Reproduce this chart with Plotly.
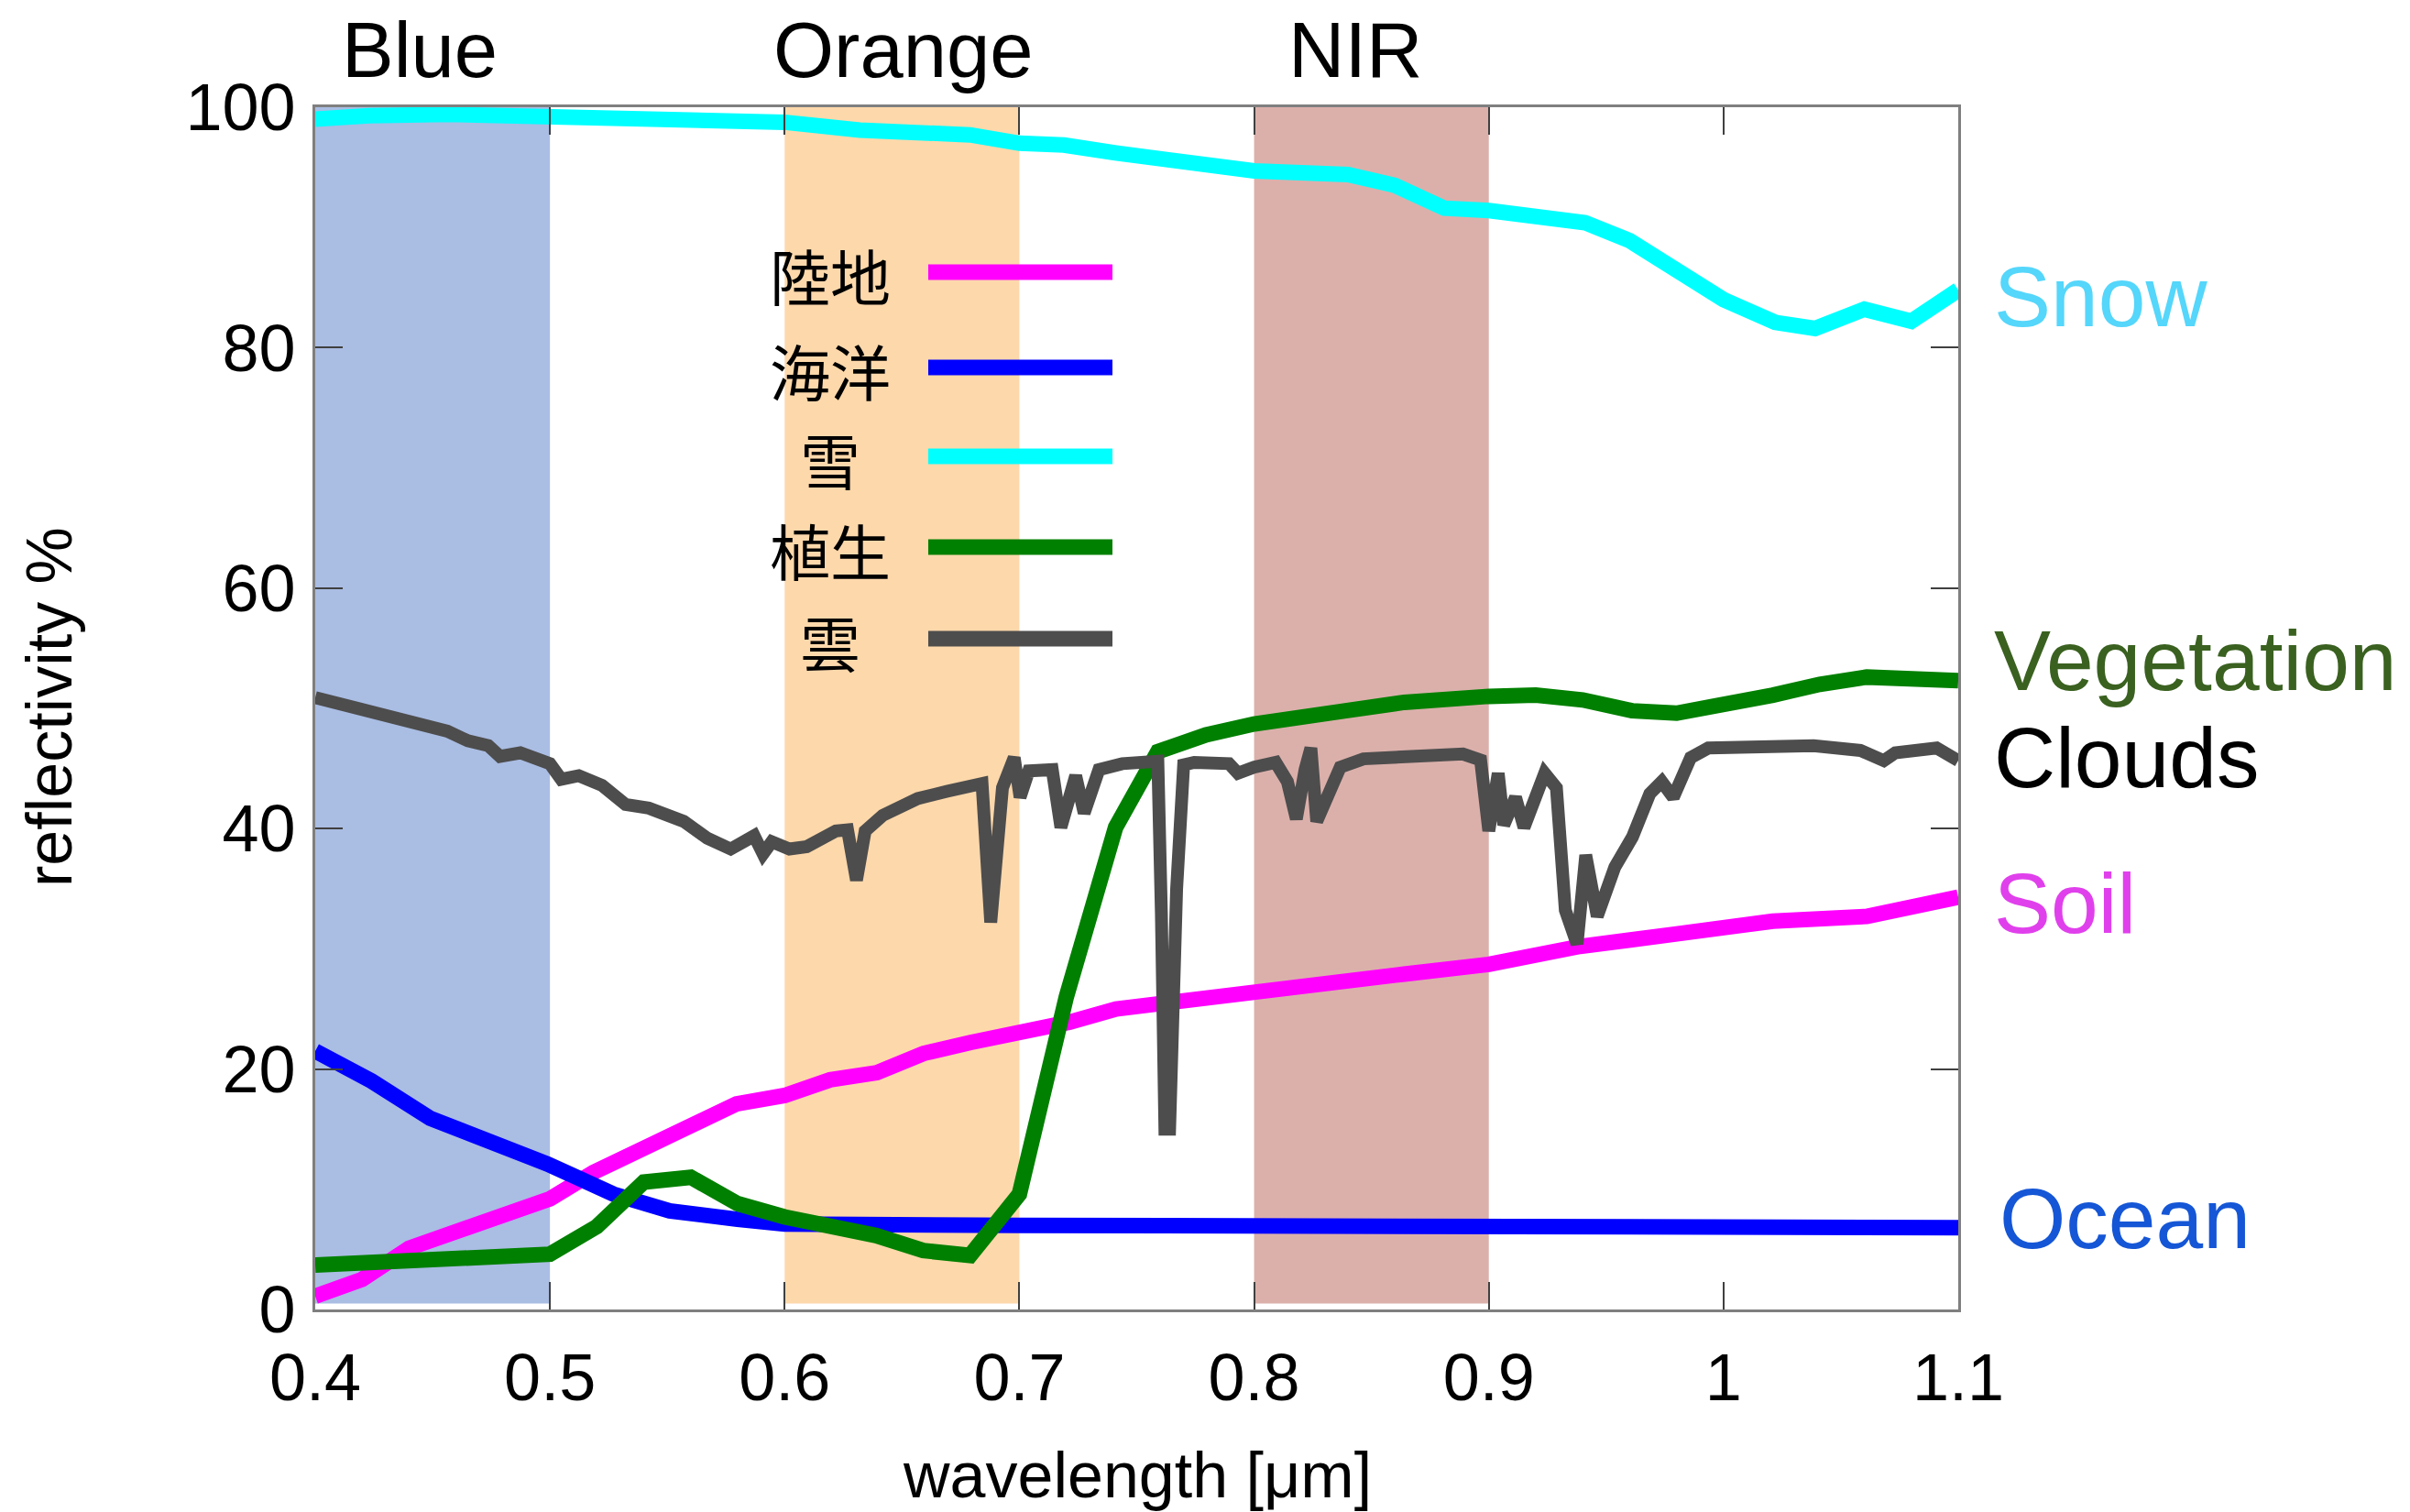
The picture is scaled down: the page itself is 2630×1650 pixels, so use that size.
import plotly.graph_objects as go

# ---------------- data ----------------
soil_x = [0.4, 0.42, 0.44, 0.4625, 0.5, 0.5185, 0.557, 0.5795, 0.6, 0.6194, 0.6393, 0.6592,
          0.679, 0.7, 0.7214, 0.7412, 0.766, 0.777, 0.8, 0.8217, 0.8416, 0.864, 0.9,
          0.9388, 0.9786, 1.021, 1.061, 1.0807, 1.1]
soil_y = [1.1, 2.5, 5.1, 6.65, 9.2, 11.4, 14.8, 17.1, 17.8, 19.1, 19.7, 21.3,
          22.2, 23.0, 23.9, 25.0, 25.6, 26.1, 26.5, 27.2, 27.4, 27.9, 28.7,
          30.2, 31.2, 32.3, 32.7, 33.5, 34.3]

ocean_x = [0.4, 0.424, 0.449, 0.499, 0.527, 0.551, 0.58, 0.6, 0.7, 0.8, 0.9, 1.0, 1.1]
ocean_y = [21.5, 19.0, 15.9, 12.1, 9.6, 8.2, 7.5, 7.1, 7.0, 6.95, 6.9, 6.85, 6.8]

snow_x = [0.4, 0.423, 0.457, 0.5, 0.565, 0.6, 0.632, 0.679, 0.7, 0.719, 0.741, 0.764,
          0.78, 0.8, 0.84, 0.86, 0.881, 0.9, 0.941, 0.96, 1.0, 1.022, 1.039, 1.06, 1.08, 1.1]
snow_y = [99.0, 99.3, 99.4, 99.3, 99.1, 98.75, 98.1, 97.7, 97.0, 96.85, 96.2, 95.6,
          95.3, 94.7, 94.4, 93.5, 91.6, 91.4, 90.4, 88.9, 84.0, 82.1, 81.6, 83.2, 82.2, 84.8]

veg_x = [0.4, 0.45, 0.482, 0.5, 0.52, 0.54, 0.56, 0.58, 0.6, 0.619, 0.639, 0.659, 0.679,
         0.7, 0.72, 0.741, 0.759, 0.7795, 0.8, 0.839, 0.864, 0.9, 0.92, 0.94, 0.961,
         0.98, 1.0, 1.021, 1.041, 1.061, 1.1]
veg_y = [3.7, 4.1, 4.4, 4.6, 6.9, 10.6, 11.0, 8.8, 7.7, 6.9, 6.15, 4.9, 4.5,
         9.6, 26.0, 40.1, 46.4, 47.8, 48.7, 49.8, 50.5, 51.0, 51.1, 50.7, 49.8,
         49.6, 50.2, 51.1, 52.0, 52.6, 52.3]

cloud_x = [0.4, 0.4426, 0.4563, 0.465, 0.4737, 0.4787, 0.4874, 0.5, 0.5048, 0.5123, 0.5222,
           0.5322, 0.5421, 0.557, 0.567, 0.577, 0.587, 0.5908, 0.5945, 0.602, 0.6094,
           0.6218, 0.6268, 0.6306, 0.6343, 0.6418, 0.6567, 0.6692, 0.6841, 0.6878, 0.6928,
           0.6978, 0.7003, 0.704, 0.714, 0.7177, 0.724, 0.7276, 0.7339, 0.7438, 0.7563,
           0.759, 0.7605, 0.762, 0.764, 0.767, 0.770, 0.7745, 0.7893, 0.7931, 0.8, 0.8092,
           0.8142, 0.818, 0.8217, 0.8242, 0.8267, 0.8317, 0.8367, 0.8466, 0.864, 0.889,
           0.8965, 0.900, 0.904, 0.9064, 0.9114, 0.915, 0.9238, 0.9288, 0.9326, 0.9376,
           0.9413, 0.9462, 0.9537, 0.9612, 0.9686, 0.9737, 0.9786, 0.986, 0.9935, 1.0134,
           1.0384, 1.0583, 1.0683, 1.0732, 1.0908, 1.1]
cloud_y = [50.9, 48.6, 48.1, 47.3, 46.9, 46.0, 46.3, 45.4, 44.1, 44.4, 43.6,
           42.0, 41.7, 40.6, 39.2, 38.3, 39.4, 37.9, 38.9, 38.3, 38.5,
           39.8, 39.9, 35.7, 39.8, 41.1, 42.5, 43.1, 43.75, 32.2, 43.4,
           45.9, 42.6, 44.8, 44.9, 40.1, 44.4, 41.3, 44.9, 45.4, 45.5,
           45.6, 33.0, 15.0, 15.0, 35.0, 45.3, 45.5, 45.4, 44.6, 45.1, 45.5,
           43.9, 40.8, 44.9, 46.7, 40.6, 43.1, 45.1, 45.8, 46.05, 46.2,
           45.7, 39.8, 44.6, 40.3, 42.6, 40.1, 44.6, 43.4, 33.2, 30.4,
           37.8, 32.7, 36.8, 39.3, 42.9, 43.9, 42.6, 45.9, 46.7, 46.8,
           46.9, 46.5, 45.65, 46.3, 46.7, 45.65]

x_ticks = [0.4, 0.5, 0.6, 0.7, 0.8, 0.9, 1.0, 1.1]
x_tick_labels = ["0.4", "0.5", "0.6", "0.7", "0.8", "0.9", "1", "1.1"]
y_ticks = [0, 20, 40, 60, 80, 100]

band_names = ["Blue", "Orange", "NIR"]
band_x0 = [0.4, 0.6, 0.8]
band_x1 = [0.5, 0.7, 0.9]

legend_labels = ["陸地", "海洋", "雪", "植生", "雲"]
side_labels = ["Snow", "Vegetation", "Clouds", "Soil", "Ocean"]

# ---------------- styling ----------------
W, H = 2630, 1650
L, R, T, B = 344, 2137, 117, 1429   # plot area in pixels


def px(x):
    return (x - L) / (R - L)


def py(y):
    return (B - y) / (B - T)


series_colors = ["#ff00ff", "#0000ff", "#00ffff", "#008000", "#4d4d4d"]
series_widths = [17, 17, 17, 17, 14]
band_colors = ["#aabde3", "#fdd8ab", "#dbb0ab"]
band_label_px = [458, 986, 1479]
side_colors = ["#55d6fb", "#3a6120", "#000000", "#e040ec", "#1556d6"]
side_ypx = [324, 721, 827, 986, 1330]
side_xpx = [2174, 2174, 2174, 2174, 2180]
legend_ypx = [299, 403, 500, 599, 699]

FONT = "Liberation Sans, Arial, Helvetica, sans-serif"
CJK = "Noto Sans CJK JP, Noto Sans CJK SC, sans-serif"

fig = go.Figure()
data = [(soil_x, soil_y), (ocean_x, ocean_y), (snow_x, snow_y), (veg_x, veg_y), (cloud_x, cloud_y)]
for (xs, ys), c, w, n in zip(data, series_colors, series_widths, legend_labels):
    fig.add_trace(go.Scatter(x=xs, y=ys, mode="lines", name=n,
                             line=dict(color=c, width=w), showlegend=False))

shapes = []
for x0, x1, c in zip(band_x0, band_x1, band_colors):
    shapes.append(dict(type="rect", xref="x", yref="y", x0=x0, x1=x1, y0=0.5, y1=100,
                       fillcolor=c, line=dict(width=0), layer="below"))

annotations = []
for name, xp in zip(band_names, band_label_px):
    annotations.append(dict(text=name, xref="paper", yref="paper", x=px(xp), y=py(55),
                            xanchor="center", yanchor="middle", showarrow=False,
                            font=dict(family=FONT, size=85, color="black")))

for name, c, yp, xp in zip(side_labels, side_colors, side_ypx, side_xpx):
    annotations.append(dict(text=name, xref="paper", yref="paper", x=px(xp), y=py(yp),
                            xanchor="left", yanchor="middle", showarrow=False,
                            font=dict(family=FONT, size=93, color=c)))

for lab, c, yp in zip(legend_labels, series_colors, legend_ypx):
    annotations.append(dict(text=lab, xref="paper", yref="paper", x=px(906), y=py(yp),
                            xanchor="center", yanchor="middle", showarrow=False,
                            font=dict(family=CJK, size=66, color="black")))
    shapes.append(dict(type="line", xref="paper", yref="paper", x0=px(1013), x1=px(1214),
                       y0=py(yp - 2), y1=py(yp - 2), line=dict(color=c, width=17)))

annotations.append(dict(text="wavelength [μm]", xref="paper", yref="paper", x=px(1241), y=py(1610),
                        xanchor="center", yanchor="middle", showarrow=False,
                        font=dict(family=FONT, size=70, color="black")))
annotations.append(dict(text="reflectivity %", xref="paper", yref="paper", x=px(54), y=py(772),
                        xanchor="center", yanchor="middle", showarrow=False, textangle=-90,
                        font=dict(family=FONT, size=70, color="black")))

fig.update_layout(
    width=W, height=H,
    margin=dict(l=L, r=W - R, t=T, b=H - B, pad=0),
    paper_bgcolor="white", plot_bgcolor="white",
    shapes=shapes, annotations=annotations,
    showlegend=False,
    xaxis=dict(range=[0.4, 1.1], tickvals=x_ticks, ticktext=x_tick_labels,
               showgrid=False, zeroline=False, showline=True, mirror="ticks",
               linecolor="#7f7f7f", linewidth=3, ticks="inside", ticklen=30,
               tickwidth=2, tickcolor="#404040", ticklabelstandoff=10,
               tickfont=dict(family=FONT, size=72, color="black")),
    yaxis=dict(range=[0, 100], tickvals=y_ticks,
               showgrid=False, zeroline=False, showline=True, mirror="ticks",
               linecolor="#7f7f7f", linewidth=3, ticks="inside", ticklen=30,
               tickwidth=2, tickcolor="#404040", ticklabelstandoff=4,
               tickfont=dict(family=FONT, size=72, color="black")),
)

fig.write_html("out.html")
